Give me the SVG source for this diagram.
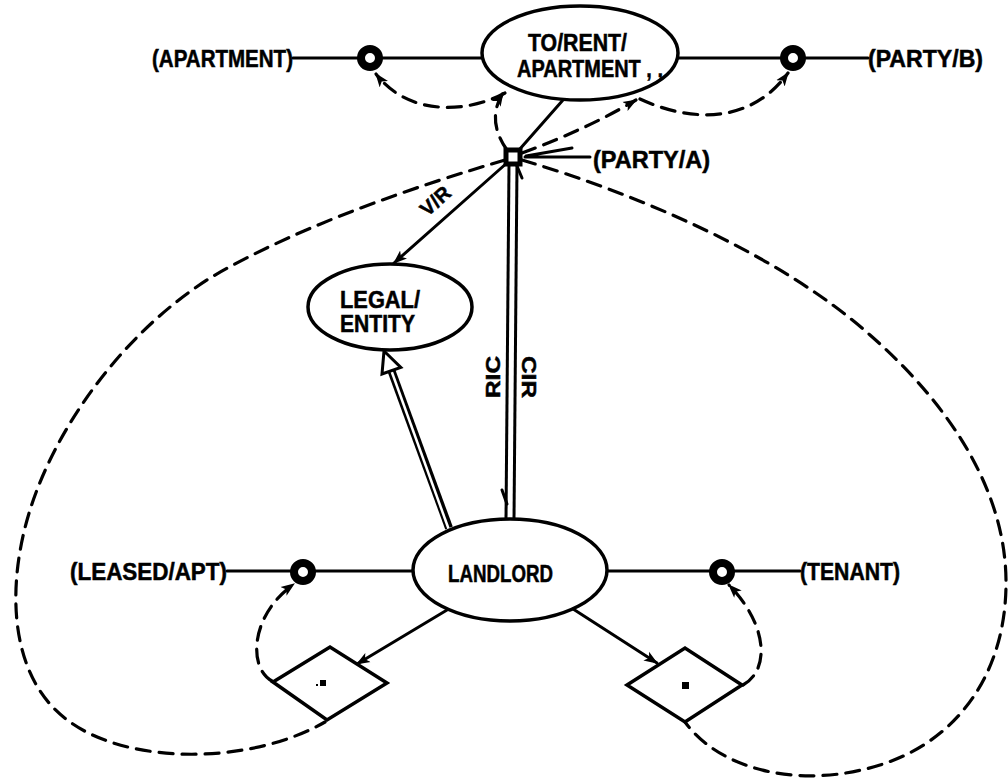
<svg xmlns="http://www.w3.org/2000/svg" width="1008" height="783" viewBox="0 0 1008 783">
<style>
.t{font-family:"Liberation Sans",Arial,sans-serif;font-weight:bold;font-size:23px;fill:#000;stroke:#000;stroke-width:0.5}
.s{fill:none;stroke:#000;stroke-width:3;stroke-linecap:round}
.d{fill:none;stroke:#000;stroke-width:3.2;stroke-dasharray:14 9;stroke-linecap:round}
.e{fill:#fff;stroke:#000;stroke-width:3.5}
.ring{fill:#fff;stroke:#000;stroke-width:8}
.dia{fill:#fff;stroke:#000;stroke-width:3.5;stroke-linejoin:miter}
</style>
<defs>
<marker id="ah" viewBox="0 0 12 10" refX="11" refY="5" markerWidth="14" markerHeight="12" markerUnits="userSpaceOnUse" orient="auto">
<path d="M0,0.5 L12,5 L0,9.5 L3,5 z" fill="#000"/>
</marker>
</defs>
<rect width="1008" height="783" fill="#fff"/>

<g id="connectors">
<line class="s" x1="293" y1="58" x2="482" y2="58"/>
<line class="s" x1="678" y1="58" x2="868" y2="58"/>
<line class="s" x1="227" y1="571" x2="413" y2="571"/>
<line class="s" x1="607" y1="571" x2="800" y2="571"/>
<line class="s" x1="519" y1="150" x2="563" y2="100"/>
<path class="s" d="M590 157 L525 157 M526 156 L572 148"/>
<path class="s" d="M508 162 L394 263" marker-end="url(#ah)"/>
<path class="s" d="M447 610 L357 664" marker-end="url(#ah)"/>
<path class="s" d="M570 607 L657 663" marker-end="url(#ah)"/>
<line x1="449" y1="528" x2="391.4" y2="370.7" stroke="#000" stroke-width="8"/>
<line x1="449" y1="530" x2="391.4" y2="370.7" stroke="#fff" stroke-width="2.5"/>
<polygon points="384,351 400.8,367.4 382,374" fill="#fff" stroke="#000" stroke-width="3" stroke-linejoin="miter"/>
<line x1="513" y1="165" x2="510" y2="519" stroke="#000" stroke-width="11"/>
<line x1="513" y1="164" x2="510" y2="520" stroke="#fff" stroke-width="5"/>
<path class="s" d="M502 490 L507 504"/>
<path class="s" d="M522 178 L517 166"/>
<path class="d" d="M507 150 Q486 120 503 93" marker-end="url(#ah)"/>
<path class="d" d="M505 93 C470 112 410 118 376 74" marker-end="url(#ah)"/>
<path class="d" d="M522 153 Q585 130 636 100" marker-end="url(#ah)"/>
<path class="d" d="M640 99 C690 122 750 125 788 73" marker-end="url(#ah)"/>
<path class="d" d="M272 681 C248 668 250 615 294 584" marker-end="url(#ah)"/>
<path class="d" d="M743 685 C770 670 768 625 729 585" marker-end="url(#ah)"/>
<path class="d" d="M505 160 C420 185 300 225 210 278 C120 335 55 430 30 510 C5 590 10 680 70 722 C130 765 250 765 325 722"/>
<path class="d" d="M522 160 C640 195 780 255 870 335 C950 405 1005 490 1006 580 C1007 670 960 740 880 765 C800 790 720 770 685 722"/>
</g>

<g id="node-to-rent-apartment">
<ellipse class="e" cx="580" cy="53" rx="98" ry="47"/>
<text class="t" x="528" y="51" textLength="99" lengthAdjust="spacingAndGlyphs">TO/RENT/</text>
<text class="t" x="517" y="77" textLength="146" lengthAdjust="spacingAndGlyphs">APARTMENT , ,</text>
</g>
<g id="node-apartment"><text class="t" x="152" y="67" textLength="141" lengthAdjust="spacingAndGlyphs">(APARTMENT)</text></g>
<g id="node-party-b"><text class="t" x="868" y="67" textLength="115" lengthAdjust="spacingAndGlyphs">(PARTY/B)</text></g>
<g id="node-party-a"><text class="t" x="593" y="168" textLength="117" lengthAdjust="spacingAndGlyphs">(PARTY/A)</text></g>
<g id="node-ring-apartment"><circle class="ring" cx="370" cy="58" r="9"/></g>
<g id="node-ring-party-b"><circle class="ring" cx="793" cy="58" r="9"/></g>
<g id="node-junction"><rect x="506" y="150" width="14" height="14" fill="#fff" stroke="#000" stroke-width="5"/></g>

<g id="label-vr"><text class="t" style="font-size:20px" transform="translate(440,206) rotate(-42)" text-anchor="middle">V/R</text></g>
<g id="label-ric"><text class="t" style="font-size:20px" transform="translate(500,377) rotate(-90)" text-anchor="middle" textLength="42" lengthAdjust="spacingAndGlyphs">RIC</text></g>
<g id="label-cir"><text class="t" style="font-size:20px" transform="translate(522,377) rotate(90)" text-anchor="middle" textLength="42" lengthAdjust="spacingAndGlyphs">CIR</text></g>

<g id="node-legal-entity">
<ellipse class="e" cx="390" cy="307" rx="82" ry="43"/>
<text class="t" x="340" y="308" textLength="80" lengthAdjust="spacingAndGlyphs">LEGAL/</text>
<text class="t" x="340" y="332" textLength="75" lengthAdjust="spacingAndGlyphs">ENTITY</text>
</g>

<g id="node-landlord">
<ellipse class="e" cx="510" cy="570" rx="97" ry="51"/>
<text class="t" x="448" y="582" textLength="105" lengthAdjust="spacingAndGlyphs">LANDLORD</text>
</g>
<g id="node-leased-apt"><text class="t" x="70" y="580" textLength="157" lengthAdjust="spacingAndGlyphs">(LEASED/APT)</text></g>
<g id="node-tenant"><text class="t" x="800" y="580" textLength="100" lengthAdjust="spacingAndGlyphs">(TENANT)</text></g>
<g id="node-ring-leased"><circle class="ring" cx="303" cy="572" r="9"/></g>
<g id="node-ring-tenant"><circle class="ring" cx="722" cy="572" r="9"/></g>

<g id="node-diamond-left">
<polygon class="dia" points="273,682 330,647 387,683 327,720"/>
<rect x="320" y="680" width="6" height="6" fill="#000"/>
<rect x="316" y="684" width="2" height="2" fill="#000"/>
</g>
<g id="node-diamond-right">
<polygon class="dia" points="627,685 685,648 742,685 685,722"/>
<rect x="682" y="682" width="7" height="7" fill="#000"/>
</g>
</svg>
